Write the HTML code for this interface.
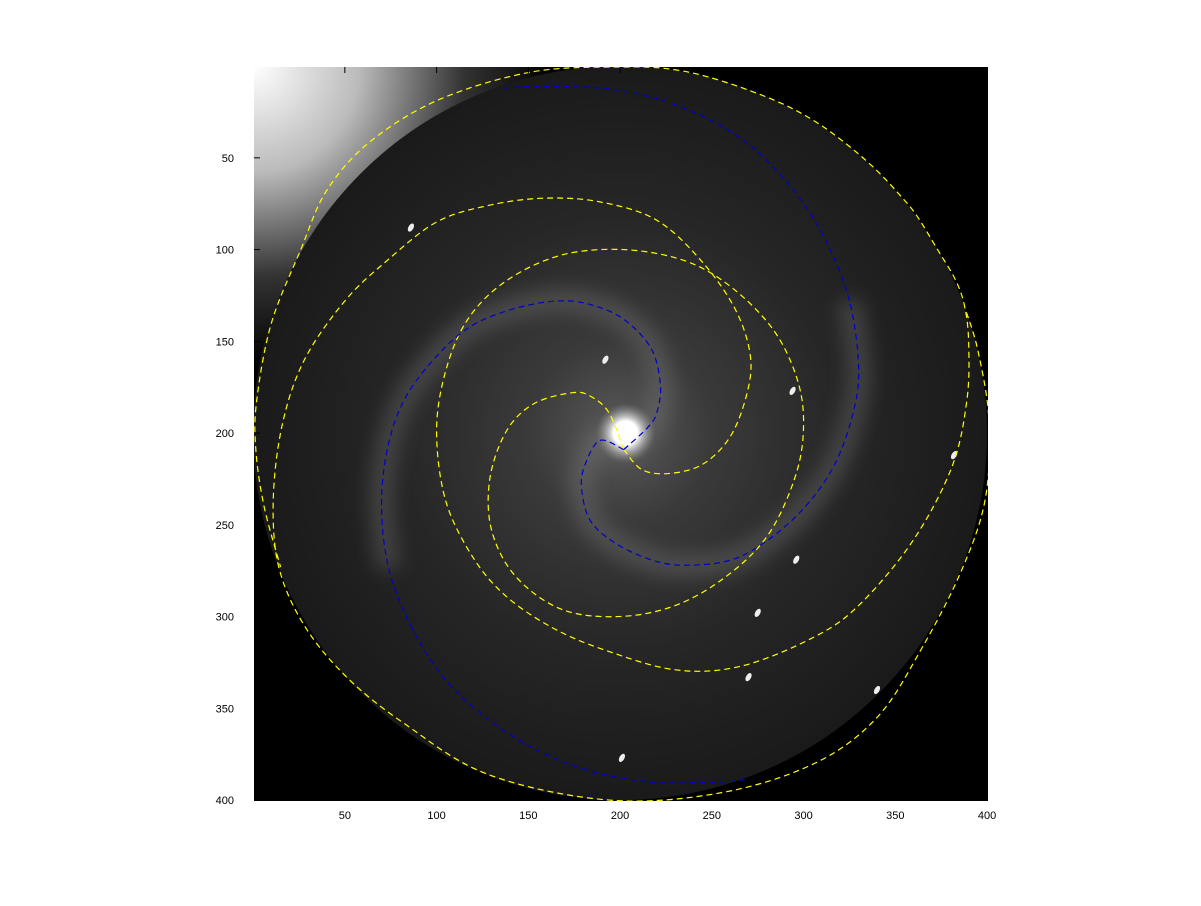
<!DOCTYPE html>
<html><head><meta charset="utf-8">
<style>
html,body{margin:0;padding:0;background:#fff;}
body{width:1201px;height:901px;overflow:hidden;font-family:"Liberation Sans",sans-serif;}
svg text{font-family:"Liberation Sans",sans-serif;font-size:11px;fill:#000;}
</style></head>
<body>
<svg id="fig" width="1201" height="901" viewBox="0 0 1201 901" xmlns="http://www.w3.org/2000/svg">
<defs>
<radialGradient id="corner" cx="254" cy="67" r="300" gradientUnits="userSpaceOnUse">
<stop offset="0" stop-color="#fff"/><stop offset="0.35" stop-color="#bbb"/><stop offset="0.7" stop-color="#333"/><stop offset="1" stop-color="#000"/>
</radialGradient>
<radialGradient id="disk" cx="0.5" cy="0.5" r="0.5">
<stop offset="0" stop-color="#5a5a5a"/><stop offset="0.25" stop-color="#3a3a3a"/><stop offset="0.6" stop-color="#262626"/><stop offset="1" stop-color="#1a1a1a"/>
</radialGradient>
<radialGradient id="core" cx="0.5" cy="0.5" r="0.5">
<stop offset="0" stop-color="#fff"/><stop offset="0.4" stop-color="#fff"/><stop offset="0.65" stop-color="#ccc" stop-opacity="0.6"/><stop offset="1" stop-color="#888" stop-opacity="0"/>
</radialGradient>
<filter id="blur"><feGaussianBlur stdDeviation="9"/></filter>
<clipPath id="plotclip"><rect x="254" y="67" width="734" height="734"/></clipPath>
</defs>
<g id="plot" clip-path="url(#plotclip)"></g>
<g id="axes"></g>
</svg>
<script>
const xTicks=[50,100,150,200,250,300,350,400];
const yTicks=[50,100,150,200,250,300,350,400];
const yellowA_x=[202,194,184,174,153,138,129,130,143,168,199,230,258,281,296,300,296,283,260,235,202,168,138,117,105,100,105,120,138,163,191,230,266,306,331,360,381,389,390,388,383,373,362,354,340,324,306,285,255,230,204,153,102,64,40,26,10,2,1.5,6,15];
const yellowA_y=[209,189,180,178,184,199,225,253,278,296,300,294,278,255,222,194,169,143,120,106,100,103,117,138,166,199,237,268,289,306,318,329,327,311,293,258,218,182,152,132,117,100,82,72,57,43,30,19,8,2,0.5,3,18,41,68,100,140,182,209,240,273];
const yellowB_x=[202,212,227,245,260,269,271,263,245,220,189,158,128,100,73,50,28,16,11,14,28,51,82,128,194,255,306,340,364,386,399,401,395,388];
const yellowB_y=[209,220,222,217,202,179,158,133,107,84,74,72,76,85,106,128,160,195,236,273,305,333,358,386,400,396,380,355,318,275,236,193,155,132];
const blue1_x=[202,215,220,222,217,202,184,166,143,120,102,84,74,70,74,87,107,138,174,215,255,268];
const blue1_y=[209,197,189,174,154,138,130,128,132,141,156,179,205,238,274,307,337,363,381,390,390,389];
const blue2_x=[202,189,181,179,184,199,220,238,261,281,301,317,327,330,325,312,294,268,235,199,158,136];
const blue2_y=[209,204,217,230,248,261,270,272,269,258,240,217,189,164,128,95,67,41,23,13,11,12];
const stars_x=[86,192,294,382,275,296,201,270,340];
const stars_y=[88,160,177,212,298,269,377,333,340];
const NS='http://www.w3.org/2000/svg';
const x0=254,y0=67,k=734/400;
function sx(v){return x0+(v-0.5)*k;}
function sy(v){return y0+(v-0.5)*k;}
function mk(tag,attrs,parent){const e=document.createElementNS(NS,tag);for(const a in attrs)e.setAttribute(a,attrs[a]);parent.appendChild(e);return e;}
const plot=document.getElementById('plot');
const axes=document.getElementById('axes');
let bg=mk('rect',{x:254,y:67,width:734,height:734,fill:'#000'},plot);


let cg=mk('rect',{x:254,y:67,width:400,height:400,fill:'url(#corner)'},plot);


let disk=mk('circle',{cx:sx(200),cy:sy(200),r:200*k,fill:'url(#disk)'},plot);


function pathD(xs,ys){let d='';for(let i=0;i<xs.length;i++){const px=sx(xs[i]),py=sy(ys[i]);if(i===0)d+='M'+px+' '+py;else{const p0=i>1?i-2:i-1,p1=i-1,p2=i,p3=i<xs.length-1?i+1:i;const c1x=sx(xs[p1])+(sx(xs[p2])-sx(xs[p0]))/6,c1y=sy(ys[p1])+(sy(ys[p2])-sy(ys[p0]))/6;const c2x=sx(xs[p2])-(sx(xs[p3])-sx(xs[p1]))/6,c2y=sy(ys[p2])-(sy(ys[p3])-sy(ys[p1]))/6;d+=' C'+c1x+' '+c1y+' '+c2x+' '+c2y+' '+px+' '+py;}}return d;}
let arm1=mk('path',{d:pathD(blue1_x.slice(0,15),blue1_y.slice(0,15)),fill:'none',stroke:'#888','stroke-width':24,'stroke-opacity':0.3,filter:'url(#blur)'},plot);


let arm2=mk('path',{d:pathD(blue2_x.slice(0,15),blue2_y.slice(0,15)),fill:'none',stroke:'#888','stroke-width':24,'stroke-opacity':0.3,filter:'url(#blur)'},plot);


let core=mk('circle',{cx:sx(203),cy:sy(200),r:30,fill:'url(#core)'},plot);


for(let i=0;i<stars_x.length;i++){let s=mk('ellipse',{cx:sx(stars_x[i]),cy:sy(stars_y[i]),rx:2.5,ry:4.5,fill:'#eee',transform:'rotate(30 '+sx(stars_x[i])+' '+sy(stars_y[i])+')'},plot);

}
function curve(xs,ys,col,name){let p=mk('path',{d:pathD(xs,ys),fill:'none',stroke:col,'stroke-width':1.2,'stroke-dasharray':'6 4'},plot);

}
curve(yellowA_x,yellowA_y,'#ffff00','yellow-spiral-arm-a');
curve(yellowB_x,yellowB_y,'#ffff00','yellow-spiral-arm-b');
curve(blue1_x,blue1_y,'#0000cc','blue-spiral-arm-1');
curve(blue2_x,blue2_y,'#0000cc','blue-spiral-arm-2');
xTicks.forEach(v=>{const X=sx(v);
mk('line',{x1:X,y1:67,x2:X,y2:73,stroke:'#000'},axes);
let t=mk('text',{x:X,y:819,'text-anchor':'middle'},axes);t.textContent=v;

});
yTicks.forEach(v=>{const Y=sy(v);
mk('line',{x1:254,y1:Y,x2:260,y2:Y,stroke:'#000'},axes);
let t=mk('text',{x:234,y:Y+4,'text-anchor':'end'},axes);t.textContent=v;

});
</script>
</body></html>
